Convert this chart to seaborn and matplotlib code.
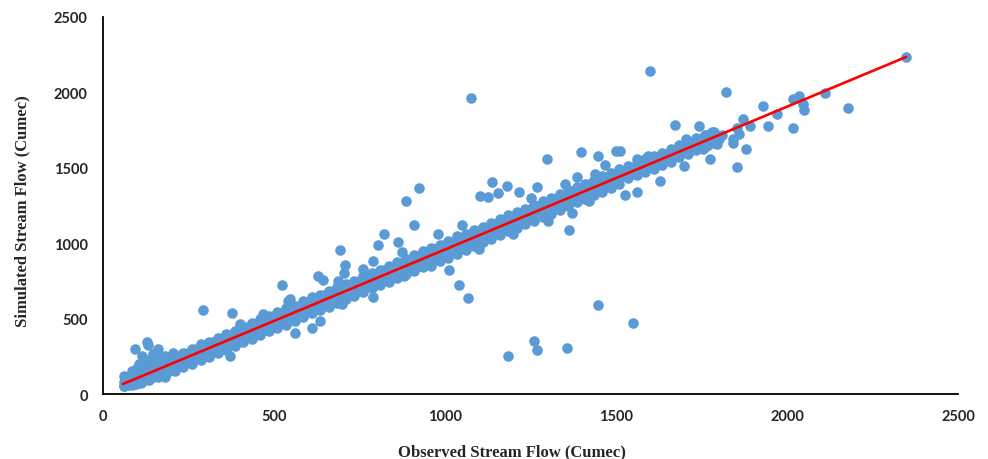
import numpy as np
import pandas as pd
import matplotlib
matplotlib.use("Agg")
import matplotlib.pyplot as plt
import seaborn as sns

# main band of points in columns
band_x = [60, 85, 110, 135, 160, 185, 210, 235, 260, 285, 310, 335, 360, 385, 410,
          435, 460, 485, 510, 535, 560, 585, 610, 635, 660, 685, 710, 735, 760, 785,
          810, 835, 860, 885, 910, 935, 960, 985, 1010, 1035, 1060, 1085, 1110, 1135,
          1160, 1185, 1210, 1235, 1260, 1285, 1310, 1335, 1360, 1385, 1410, 1435,
          1460, 1485, 1510]
band_top = [120, 155, 180, 200, 215, 235, 250, 270, 300, 330, 345, 370, 400, 420, 445,
            470, 495, 515, 545, 570, 585, 615, 640, 655, 685, 710, 730, 750, 780, 805,
            825, 850, 875, 895, 920, 945, 970, 990, 1015, 1045, 1060, 1090, 1110, 1135,
            1160, 1185, 1210, 1230, 1255, 1280, 1300, 1325, 1350, 1370, 1395, 1420,
            1445, 1465, 1490]
band_upper = [82, 106, 130, 152, 178, 200, 225, 248, 272, 295, 320, 342, 368, 390, 415,
              438, 462, 486, 508, 533, 556, 580, 605, 628, 652, 676, 698, 723, 747, 770,
              795, 818, 842, 866, 888, 913, 937, 960, 985, 1008, 1032, 1056, 1080, 1102,
              1127, 1150, 1175, 1198, 1222, 1246, 1270, 1292, 1317, 1340, 1365, 1388,
              1412, 1435, 1460]
band_lower = [55, 72, 95, 118, 142, 165, 190, 213, 237, 261, 284, 308, 332, 356, 380,
              403, 427, 451, 474, 498, 522, 546, 570, 593, 617, 641, 664, 688, 712, 736,
              760, 783, 807, 831, 854, 878, 902, 926, 950, 973, 997, 1021, 1045, 1068,
              1092, 1116, 1140, 1163, 1187, 1211, 1235, 1258, 1282, 1306, 1330, 1353,
              1377, 1401, 1425]
band_bottom = [50, 62, 75, 95, 112, 135, 155, 180, 200, 225, 245, 270, 295, 320, 345,
               365, 390, 415, 440, 460, 485, 510, 535, 555, 580, 605, 630, 650, 675, 700,
               722, 745, 770, 795, 815, 840, 862, 885, 905, 930, 955, 980, 1005, 1030,
               1055, 1078, 1100, 1125, 1150, 1175, 1195, 1220, 1245, 1270, 1295, 1318,
               1342, 1365, 1390]

# second set of columns between the first ones
band2_x = [72, 97, 122, 147, 172, 197, 222, 247, 272, 297, 322, 347, 372, 397, 422,
           447, 472, 497, 522, 547, 572, 597, 622, 647, 672, 697, 722, 747, 772, 797,
           822, 847, 872, 897, 922, 947, 972, 997, 1022, 1047, 1072, 1097, 1122, 1147,
           1172, 1197, 1222, 1247, 1272, 1297, 1322, 1347, 1372, 1397, 1422, 1447,
           1472, 1497]
band2_high = [108, 132, 160, 182, 203, 226, 250, 275, 298, 322, 346, 370, 393, 417, 441,
              465, 488, 512, 536, 560, 583, 607, 631, 655, 678, 702, 726, 750, 773, 797,
              821, 845, 868, 892, 916, 940, 963, 987, 1011, 1035, 1058, 1082, 1106, 1130,
              1153, 1177, 1201, 1225, 1248, 1272, 1296, 1320, 1343, 1367, 1391, 1415,
              1438, 1462]
band2_mid = [78, 102, 126, 150, 173, 197, 221, 245, 268, 292, 316, 340, 363, 387, 411,
             435, 458, 482, 506, 530, 553, 577, 601, 625, 648, 672, 696, 720, 743, 767,
             791, 815, 838, 862, 886, 910, 933, 957, 981, 1005, 1028, 1052, 1076, 1100,
             1123, 1147, 1171, 1195, 1218, 1242, 1266, 1290, 1313, 1337, 1361, 1385,
             1408, 1432]
band2_low = [60, 67, 91, 115, 138, 162, 186, 210, 233, 257, 281, 305, 328, 352, 376,
             400, 423, 447, 471, 495, 518, 542, 566, 590, 613, 637, 661, 685, 708, 732,
             756, 780, 803, 827, 851, 875, 898, 922, 946, 970, 993, 1017, 1041, 1065,
             1088, 1112, 1136, 1160, 1183, 1207, 1231, 1255, 1278, 1302, 1326, 1350,
             1373, 1397]

# thinner upper end of the band
tail_x = [1535, 1560, 1585, 1610, 1635, 1660, 1685, 1710, 1735, 1760, 1785]
tail_top = [1510, 1535, 1560, 1580, 1600, 1625, 1650, 1670, 1700, 1720, 1740]
tail_mid = [1475, 1490, 1520, 1545, 1560, 1590, 1605, 1640, 1655, 1690, 1700]
tail_bottom = [1430, 1450, 1475, 1495, 1520, 1540, 1570, 1590, 1620, 1640, 1665]
tail2_x = [1547, 1572, 1597, 1622, 1647, 1672, 1697, 1722, 1747, 1772]
tail2_y = [1480, 1503, 1527, 1551, 1575, 1598, 1622, 1646, 1670, 1693]

# scattered points away from the band
out_x = [94, 128, 130, 161, 115, 145, 180, 205, 181,
         105, 120, 140, 155, 170, 190, 100, 150,
         293, 377, 400, 342, 290, 468, 541, 523, 547,
         629, 644, 561, 611, 634, 371, 687, 708, 705, 693,
         789, 789, 874, 822, 804, 863, 886, 924, 909,
         1012, 1041, 1067,
         700, 880, 960, 1100, 1200, 1300, 1420, 760, 980, 1050, 1250,
         1102, 1126, 1137, 1155, 1181, 1216, 1269, 1298,
         1351, 1386, 1398, 1439, 1447, 1468, 1500, 1561,
         1594, 1649, 1363, 1371, 1447, 1550, 1260, 1269,
         1184, 1357, 1076, 1599, 1673, 1743, 1705, 1629,
         1526, 1561, 1699, 1775, 1822, 1854, 1880, 1842,
         1842, 1860, 1854, 1871, 1892, 1930, 1944, 1971,
         2018, 2035, 2047, 2050, 2018, 2111, 2178, 2348,
         1512, 1750, 1765, 1780, 1790, 1800, 1770, 1795, 1755, 1810]
out_y = [298, 345, 325, 298, 250, 262, 255, 270, 113,
         200, 215, 230, 240, 235, 245, 170, 205,
         557, 540, 464, 365, 318, 530, 617, 723, 630,
         782, 756, 404, 440, 484, 252, 749, 855, 805, 952,
         882, 640, 941, 1061, 988, 1008, 1283, 1366, 1121,
         822, 723, 637,
         600, 780, 850, 960, 1060, 1150, 1280, 830, 1060, 1120, 1300,
         1313, 1306, 1406, 1333, 1379, 1340, 1373, 1558,
         1393, 1439, 1608, 1459, 1578, 1519, 1611, 1558,
         1578, 1592, 1090, 1200, 590, 471, 351, 294,
         252, 302, 1963, 2142, 1784, 1777, 1691, 1412,
         1320, 1340, 1512, 1558, 2003, 1505, 1625, 1691,
         1664, 1724, 1764, 1824, 1777, 1910, 1777, 1857,
         1956, 1976, 1923, 1883, 1764, 1996, 1897, 2233,
         1611, 1700, 1720, 1735, 1700, 1690, 1650, 1660, 1625, 1720]

# linear trend line end points
trend_x = [58, 2348]
trend_y = [66, 2235]

obs = (band_x * 4) + (band2_x * 3) + (tail_x * 3) + tail2_x + out_x
sim = (band_top + band_upper + band_lower + band_bottom
       + band2_high + band2_mid + band2_low
       + tail_top + tail_mid + tail_bottom + tail2_y + out_y)
df = pd.DataFrame({"observed": obs, "simulated": sim})

sns.set_style("white")
plt.rcParams['font.family'] = ['Lato', 'DejaVu Sans']

fig = plt.figure(figsize=(9.88, 4.6), dpi=100)
ax = fig.add_axes([0.1043, 0.1413, 0.8654, 0.8196])

sns.scatterplot(data=df, x="observed", y="simulated", ax=ax, color="#5B9BD5",
                s=58, linewidth=0, alpha=1)
sns.lineplot(x=trend_x, y=trend_y, ax=ax, color="#FF0000", linewidth=1.9)

ax.set_xlim(0, 2500)
ax.set_ylim(0, 2500)
ax.set_xticks([0, 500, 1000, 1500, 2000, 2500])
ax.set_yticks([0, 500, 1000, 1500, 2000, 2500])
ax.tick_params(length=0, labelsize=10.5, pad=11)
for lab in ax.get_xticklabels() + ax.get_yticklabels():
    lab.set_fontweight("bold")

sns.despine(ax=ax)
for side in ["left", "bottom"]:
    ax.spines[side].set_color("black")
    ax.spines[side].set_linewidth(1.3)

ax.set_xlabel("Observed Stream Flow (Cumec)", fontfamily="Liberation Serif",
              fontweight="bold", fontsize=12)
ax.set_ylabel("Simulated Stream Flow (Cumec)", fontfamily="Liberation Serif",
              fontweight="bold", fontsize=12)
ax.xaxis.set_label_coords(0.478, -0.13)
ax.yaxis.set_label_coords(-0.085, 0.488)

fig.savefig("out.png", dpi=100)
